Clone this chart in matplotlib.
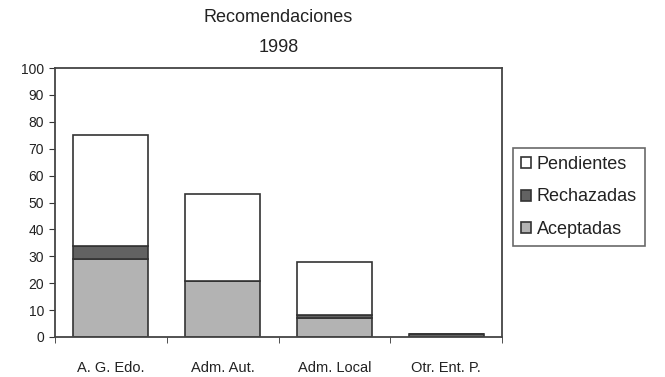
import matplotlib
matplotlib.use("Agg")
import matplotlib.pyplot as plt
import numpy as np

categories = ["A. G. Edo.", "Adm. Aut.", "Adm. Local", "Otr. Ent. P."]
aceptadas = [29, 21, 7, 0]
rechazadas = [5, 0, 1, 1]
pendientes = [41, 32, 20, 0]
yticks = list(range(0, 101, 10))
title_lines = ["Recomendaciones", "1998"]

plt.rcParams['font.family'] = ['Liberation Sans', 'DejaVu Sans']

fig = plt.figure(figsize=(6.65, 3.77), dpi=100)
W, H = 665, 377
ax = fig.add_axes([55 / W, 1 - 337 / H, (502 - 55) / W, (337 - 68) / H])

x = np.arange(len(categories))
a = np.array(aceptadas)
r = np.array(rechazadas)
p = np.array(pendientes)
ec = "#333333"
lw = 1.2
ax.bar(x, a, width=0.67, color="#b3b3b3", edgecolor=ec, linewidth=lw, label="Aceptadas")
ax.bar(x, r, width=0.67, bottom=a, color="#626262", edgecolor=ec, linewidth=lw, label="Rechazadas")
ax.bar(x, p, width=0.67, bottom=a + r, color="white", edgecolor=ec, linewidth=lw, label="Pendientes")

ax.set_xlim(-0.5, len(categories) - 0.5)
ax.set_ylim(0, 100)
ax.set_yticks(yticks)
ax.set_yticklabels([str(v) for v in yticks], fontsize=10, color="#222222")
ax.set_xticks(x)
ax.set_xticklabels(categories, fontsize=10.5, color="#222222")
ax.tick_params(axis='x', which='major', length=0, pad=17)
ax.set_xticks(np.arange(-0.5, len(categories)), minor=True)
ax.tick_params(axis='x', which='minor', length=4, direction='out', color=ec)
ax.tick_params(axis='y', length=4, direction='out', color=ec, pad=4)
for s in ax.spines.values():
    s.set_color("#444444")
    s.set_linewidth(1.3)

cx = (55 + 502) / 2 / W
fig.text(cx, 1 - 18 / H, title_lines[0], ha='center', va='center', fontsize=13, color="#222222")
fig.text(cx, 1 - 48 / H, title_lines[1], ha='center', va='center', fontsize=13, color="#222222")

handles, labels = ax.get_legend_handles_labels()
leg = fig.legend(handles[::-1], labels[::-1], loc='upper left',
                 bbox_to_anchor=(513 / W, 1 - 148 / H), fontsize=13,
                 frameon=True, fancybox=False, edgecolor="#444444",
                 handlelength=0.55, handleheight=0.55, handletextpad=0.3,
                 labelspacing=0.85, borderpad=0.45, borderaxespad=0)
leg.get_frame().set_linewidth(1.2)
for t in leg.get_texts():
    t.set_color("#222222")

fig.savefig("out.png", dpi=100)
